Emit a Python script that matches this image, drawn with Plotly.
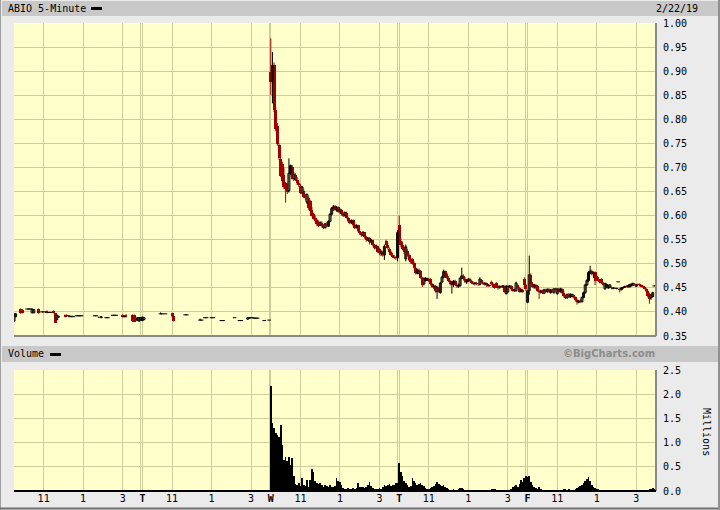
import plotly.graph_objects as go

# ---------------- data ----------------
BARS_PER_DAY = 78  # 5-minute bars, 9:30-16:00

# Monday (sparse trading) : bar offsets within the day and OHLC
mon_idx = [0, 1, 4, 5, 8, 9, 10, 11, 12, 15, 17, 18, 20, 21, 22, 24, 25, 26, 27, 31, 32, 33, 34, 35, 36,
           38, 39, 40, 41, 49, 50, 52, 53, 56, 57, 60, 61, 62, 66, 67, 68, 72, 73, 75, 76, 77]
mon_open = [.381, .390, .406, .405, .406, .406, .406, .398, .398, .406, .400, .400, .402, .399, .399, .402, .397,
            .384, .389, .394, .394, .392, .390, .391, .390, .392, .392, .392, .392, .392, .392, .389, .388, .388,
            .388, .393, .393, .393, .394, .390, .394, .394, .393, .382, .381, .383]
mon_high = [.397, .397, .407, .406, .406, .406, .406, .406, .406, .407, .400, .400, .403, .399, .399, .403, .398,
            .395, .392, .395, .395, .392, .390, .391, .390, .392, .392, .392, .392, .392, .392, .389, .390, .388,
            .388, .393, .393, .393, .395, .391, .395, .395, .395, .389, .389, .389]
mon_low = [.380, .389, .396, .397, .406, .406, .406, .398, .398, .396, .400, .400, .397, .399, .399, .397, .377,
           .383, .388, .389, .390, .392, .390, .391, .390, .392, .392, .392, .392, .392, .392, .389, .388, .388,
           .388, .393, .393, .393, .389, .389, .389, .379, .379, .381, .380, .382]
mon_close = [.396, .396, .397, .398, .406, .406, .406, .406, .405, .397, .400, .400, .398, .399, .399, .398, .378,
             .393, .391, .390, .391, .392, .390, .391, .390, .392, .392, .392, .392, .392, .392, .389, .390, .388,
             .388, .393, .393, .393, .390, .390, .390, .381, .380, .388, .388, .388]
mon_vol = [.010, .006, .008, .005, .004, .003, .004, .006, .005, .007, .003, .003, .005, .002, .002, .004, .009,
           .006, .004, .005, .004, .003, .002, .002, .003, .002, .002, .002, .002, .003, .002, .003, .003, .002,
           .002, .003, .002, .002, .005, .003, .004, .008, .006, .005, .004, .006]

# Tuesday (sparse trading)
tue_idx = [0, 1, 11, 12, 14, 18, 19, 26, 27, 35, 36, 38, 39, 42, 43, 48, 49, 56, 59, 60, 64, 65, 66, 67, 68, 69,
           70, 74, 77]
tue_open = [.382, .384, .396, .396, .396, .397, .391, .394, .394, .383, .383, .388, .388, .388, .388, .382, .382,
            .388, .382, .382, .385, .387, .388, .388, .387, .387, .387, .382, .383]
tue_high = [.390, .390, .399, .396, .396, .398, .392, .394, .394, .386, .383, .388, .388, .388, .388, .382, .382,
            .388, .382, .382, .388, .388, .388, .388, .387, .387, .387, .382, .383]
tue_low = [.381, .383, .396, .396, .396, .389, .380, .394, .394, .383, .383, .388, .388, .388, .388, .382, .382,
           .388, .382, .382, .384, .387, .388, .388, .387, .387, .387, .382, .383]
tue_close = [.389, .388, .396, .396, .396, .391, .381, .394, .394, .383, .383, .388, .388, .388, .388, .382, .382,
             .388, .382, .382, .388, .388, .388, .388, .387, .387, .387, .382, .383]
tue_vol = [.006, .005, .004, .003, .003, .008, .007, .003, .002, .004, .003, .002, .002, .003, .002, .003, .002,
           .002, .003, .002, .004, .003, .002, .002, .002, .002, .002, .003, .004]

# Wednesday (every bar)
wed_open = [.899, .878, .912, .820, .787, .746, .718, .708, .685, .667,
            .665, .652, .688, .700, .677, .685, .675, .668, .662, .647,
            .652, .640, .628, .637, .630, .612, .603, .596, .590, .584,
            .580, .585, .578, .575, .583, .578, .588, .603, .615, .620,
            .612, .617, .608, .612, .604, .600, .606, .596, .589, .585,
            .590, .580, .575, .580, .569, .563, .559, .565, .555, .549,
            .553, .545, .549, .538, .533, .537, .530, .522, .525, .518,
            .548, .540, .531, .525, .519, .514, .513, .512]
wed_high = [.968, .940, .918, .825, .792, .750, .722, .712, .700, .670,
            .668, .719, .706, .705, .690, .688, .680, .672, .666, .662,
            .655, .645, .646, .640, .632, .618, .606, .600, .594, .590,
            .588, .588, .582, .585, .586, .590, .605, .618, .622, .622,
            .620, .619, .615, .614, .608, .609, .608, .598, .592, .592,
            .592, .584, .582, .581, .572, .566, .568, .566, .558, .556,
            .555, .552, .550, .541, .540, .538, .533, .528, .527, .540,
            .550, .543, .534, .527, .523, .518, .516, .570]
wed_low = [.850, .833, .815, .775, .745, .715, .680, .668, .655, .627,
           .645, .648, .684, .675, .672, .672, .664, .660, .645, .645,
           .636, .632, .624, .612, .608, .598, .592, .585, .578, .576,
           .578, .575, .572, .573, .576, .576, .586, .600, .610, .610,
           .608, .606, .604, .600, .597, .598, .594, .586, .582, .583,
           .578, .572, .573, .566, .560, .556, .557, .552, .546, .547,
           .540, .543, .536, .530, .530, .522, .518, .516, .515, .508,
           .538, .530, .522, .516, .512, .510, .508, .505]
wed_close = [.878, .912, .820, .780, .748, .720, .683, .672, .660, .656,
             .650, .688, .704, .677, .685, .675, .668, .663, .647, .659,
             .638, .636, .644, .615, .610, .600, .594, .588, .582, .579,
             .586, .578, .575, .583, .578, .588, .603, .615, .618, .612,
             .617, .608, .612, .603, .600, .606, .596, .589, .585, .590,
             .580, .575, .580, .569, .563, .559, .565, .555, .549, .553,
             .545, .549, .538, .533, .537, .525, .522, .525, .518, .536,
             .540, .532, .525, .519, .514, .513, .512, .565]
wed_vol = [2.17, 1.40, 1.30, 1.20, 1.15, 1.12, 1.36, .95, .64, .71,
           .62, .71, .54, .68, .30, .14, .12, .16, .10, .26,
           .12, .10, .23, .09, .23, .45, .40, .20, .16, .14,
           .16, .12, .09, .12, .10, .08, .12, .09, .08, .10,
           .26, .20, .19, .12, .06, .05, .04, .06, .05, .04,
           .06, .05, .06, .16, .09, .08, .09, .07, .09, .12,
           .19, .10, .06, .05, .04, .05, .06, .05, .09, .12,
           .10, .12, .14, .10, .12, .12, .16, .16]

# Thursday
thu_open = [.580, .547, .538, .531, .510, .527, .518, .508, .510, .502,
            .492, .480, .480, .485, .471, .458, .465, .466, .469, .469,
            .457, .452, .454, .443, .450, .440, .462, .472, .484, .479,
            .470, .465, .457, .460, .465, .456, .453, .455, .470, .475,
            .468, .462, .464, .468, .464, .460, .459, .460, .458, .457,
            .466, .461, .458, .460, .455, .456, .462, .457, .455, .460,
            .454, .450, .453, .452, .454, .438, .442, .453, .454, .448,
            .444, .444, .456, .450, .444, .446, .468, .455]
thu_high = [.600, .552, .546, .536, .540, .530, .521, .512, .512, .505,
            .494, .490, .490, .487, .473, .472, .472, .471, .471, .470,
            .460, .456, .456, .454, .452, .462, .475, .488, .486, .481,
            .474, .467, .462, .466, .467, .459, .459, .472, .492, .478,
            .472, .466, .470, .471, .467, .463, .462, .462, .460, .472,
            .468, .463, .461, .461, .458, .457, .465, .460, .458, .462,
            .456, .455, .455, .456, .455, .456, .455, .456, .456, .450,
            .448, .463, .458, .452, .448, .448, .472, .458]
thu_low = [.540, .535, .528, .520, .505, .515, .505, .500, .498, .490,
           .478, .478, .478, .469, .452, .455, .463, .464, .462, .455,
           .450, .448, .440, .427, .440, .438, .460, .470, .476, .468,
           .462, .455, .438, .452, .454, .450, .450, .452, .468, .465,
           .460, .458, .462, .462, .458, .456, .455, .456, .454, .455,
           .459, .456, .455, .452, .452, .452, .455, .450, .448, .452,
           .446, .449, .450, .450, .440, .436, .440, .450, .446, .442,
           .442, .442, .448, .440, .440, .440, .452, .444]
thu_close = [.545, .538, .531, .524, .535, .518, .508, .503, .500, .492,
             .481, .486, .485, .471, .455, .469, .470, .469, .465, .457,
             .452, .454, .443, .450, .442, .460, .472, .484, .479, .470,
             .465, .457, .460, .464, .456, .453, .456, .470, .475, .468,
             .462, .464, .468, .464, .460, .459, .460, .458, .457, .468,
             .461, .458, .460, .455, .456, .454, .457, .452, .450, .454,
             .449, .453, .452, .454, .442, .452, .453, .454, .448, .444,
             .446, .460, .450, .442, .446, .441, .455, .447]
thu_vol = [.57, .40, .30, .20, .16, .12, .09, .10, .26, .20,
           .16, .12, .14, .16, .12, .10, .06, .05, .04, .06,
           .08, .10, .14, .19, .15, .12, .10, .12, .08, .06,
           .04, .03, .03, .04, .03, .02, .04, .06, .07, .05,
           .03, .02, .02, .03, .02, .02, .03, .02, .02, .03,
           .02, .02, .03, .02, .02, .03, .04, .05, .04, .03,
           .02, .02, .03, .02, .02, .03, .02, .02, .04, .08,
           .10, .12, .08, .15, .22, .18, .26, .30]

# Friday
fri_open = [.420, .444, .477, .459, .452, .456, .454, .444, .441, .444,
            .439, .446, .442, .447, .440, .446, .440, .448, .438, .448,
            .442, .448, .439, .433, .429, .436, .431, .432, .436, .430,
            .424, .420, .423, .421, .430, .440, .456, .465, .482, .485,
            .479, .482, .475, .469, .465, .468, .460, .448, .452, .450,
            .451, .450, .449, .450, .449, .4625, .448, .446, .450, .451,
            .453, .452, .452, .454, .455, .458, .453, .457, .458, .455,
            .454, .452, .448, .444, .438, .430, .432, .454]
fri_high = [.446, .517, .480, .462, .458, .458, .456, .447, .446, .446,
            .448, .448, .449, .449, .448, .448, .449, .450, .449, .450,
            .450, .449, .444, .436, .438, .439, .438, .438, .437, .432,
            .428, .425, .426, .432, .442, .458, .468, .485, .496, .488,
            .484, .484, .478, .473, .468, .470, .462, .461, .459, .457,
            .457, .452, .451, .451, .450, .4625, .450, .451, .452, .454,
            .455, .456, .458, .459, .461, .460, .458, .459, .459, .457,
            .456, .454, .450, .446, .440, .436, .442, .455]
fri_low = [.418, .436, .456, .450, .448, .447, .442, .427, .438, .437,
           .437, .440, .440, .440, .438, .440, .438, .442, .436, .440,
           .440, .437, .430, .427, .428, .429, .429, .430, .428, .421,
           .415, .418, .419, .420, .428, .438, .454, .462, .478, .476,
           .470, .456, .466, .462, .459, .458, .454, .446, .450, .448,
           .449, .447, .447, .448, .447, .4625, .440, .445, .448, .450,
           .451, .451, .451, .453, .454, .455, .452, .455, .453, .451,
           .450, .447, .441, .430, .417, .425, .430, .453]
fri_close = [.444, .477, .459, .452, .456, .449, .444, .441, .444, .439,
             .446, .442, .447, .443, .446, .444, .448, .443, .448, .442,
             .448, .439, .433, .429, .436, .431, .437, .436, .430, .424,
             .420, .423, .421, .430, .440, .456, .465, .482, .485, .479,
             .482, .465, .469, .465, .461, .460, .456, .459, .457, .455,
             .456, .449, .450, .449, .449, .4625, .446, .450, .451, .453,
             .452, .455, .457, .458, .459, .457, .457, .456, .455, .452,
             .451, .448, .443, .433, .426, .434, .440, .454]
fri_vol = [.28, .30, .18, .12, .08, .06, .05, .08, .04, .03,
           .02, .02, .03, .02, .02, .02, .03, .02, .02, .02,
           .02, .03, .04, .05, .03, .04, .03, .02, .03, .04,
           .06, .08, .10, .12, .16, .20, .25, .28, .20, .12,
           .08, .06, .05, .04, .03, .03, .02, .02, .02, .03,
           .02, .02, .01, .02, .02, .03, .02, .02, .02, .01,
           .02, .02, .03, .02, .02, .02, .03, .02, .02, .03,
           .02, .02, .03, .03, .04, .04, .06, .04]

# axis labels
intraday_ticks = [18, 42, 66]          # 11:00, 13:00, 15:00
intraday_labels = ["11", "1", "3"]
day_letters = ["", "T", "W", "T", "F"]
price_ticks = [0.35, 0.40, 0.45, 0.50, 0.55, 0.60, 0.65, 0.70, 0.75, 0.80, 0.85, 0.90, 0.95, 1.00]
vol_ticks = [0.0, 0.5, 1.0, 1.5, 2.0, 2.5]

# ---------------- assemble ----------------
full_day = list(range(BARS_PER_DAY))
x_all, o_all, h_all, l_all, c_all, v_all = [], [], [], [], [], []
for d, (idx, o, h, l, c, v) in enumerate([
        (mon_idx, mon_open, mon_high, mon_low, mon_close, mon_vol),
        (tue_idx, tue_open, tue_high, tue_low, tue_close, tue_vol),
        (full_day, wed_open, wed_high, wed_low, wed_close, wed_vol),
        (full_day, thu_open, thu_high, thu_low, thu_close, thu_vol),
        (full_day, fri_open, fri_high, fri_low, fri_close, fri_vol)]):
    x_all += [d * BARS_PER_DAY + i for i in idx]
    o_all += o
    h_all += h
    l_all += l
    c_all += c
    v_all += v

n = len(x_all)
up = [k for k in range(n) if c_all[k] > o_all[k]]
dn = [k for k in range(n) if c_all[k] < o_all[k]]
fl = [k for k in range(n) if c_all[k] == o_all[k]]


def wick_xy(ks):
    xs, ys = [], []
    for k in ks:
        xs += [x_all[k], x_all[k], None]
        ys += [l_all[k], h_all[k], None]
    return xs, ys


tickvals, ticktext = [], []
for d in range(5):
    if d > 0:
        tickvals += [d * BARS_PER_DAY - 1, d * BARS_PER_DAY]
        ticktext += ["", "<b>%s</b>" % day_letters[d]]
    for t, lab in zip(intraday_ticks, intraday_labels):
        tickvals.append(d * BARS_PER_DAY + t)
        ticktext.append(lab)

# ---------------- figure ----------------
GRID = "#CDCD9A"
PLOT_BG = "#FFFFCC"
PAPER = "#EBEBEB"
FONT = "DejaVu Sans Mono"
RED = "#A00000"

fig = go.Figure()
# wicks
wx, wy = wick_xy(dn)
fig.add_trace(go.Scatter(x=wx, y=wy, mode="lines", line=dict(color=RED, width=1),
                         xaxis="x", yaxis="y", hoverinfo="skip", showlegend=False))
wx, wy = wick_xy(up + fl)
fig.add_trace(go.Scatter(x=wx, y=wy, mode="lines", line=dict(color="black", width=1),
                         xaxis="x", yaxis="y", hoverinfo="skip", showlegend=False))
# down bodies (filled red)
fig.add_trace(go.Bar(x=[x_all[k] for k in dn], base=[c_all[k] for k in dn],
                     y=[o_all[k] - c_all[k] for k in dn], width=1.8,
                     marker=dict(color=RED, line=dict(width=0)),
                     xaxis="x", yaxis="y", hoverinfo="skip", showlegend=False))
# up bodies (hollow, black outline)
fig.add_trace(go.Bar(x=[x_all[k] for k in up], base=[o_all[k] for k in up],
                     y=[c_all[k] - o_all[k] for k in up], width=1.2,
                     marker=dict(color=PLOT_BG, line=dict(color="black", width=1)),
                     xaxis="x", yaxis="y", hoverinfo="skip", showlegend=False))
# unchanged bars (open == close) drawn as short dashes
fx, fy = [], []
for k in fl:
    fx += [x_all[k] - 1.1, x_all[k] + 1.1, None]
    fy += [c_all[k], c_all[k], None]
fig.add_trace(go.Scatter(x=fx, y=fy, mode="lines", line=dict(color="black", width=1),
                         xaxis="x", yaxis="y", hoverinfo="skip", showlegend=False))
# volume
fig.add_trace(go.Bar(x=x_all, y=v_all, width=1.0, marker=dict(color="black", line=dict(width=0)),
                     xaxis="x2", yaxis="y2", showlegend=False, hoverinfo="skip"))

L, R, T, B = 14, 64, 23, 19
W, H = 720, 510
PW, PH = W - L - R, H - T - B


def px(xp):
    return (xp - L) / PW


def py(yp):
    return (H - B - yp) / PH


price_bottom = py(336)
vol_top = py(370)

axis_common = dict(showline=False, zeroline=False, fixedrange=True, showgrid=True,
                   gridcolor=GRID, gridwidth=1, ticks="", automargin=False)
fig.update_layout(
    width=W, height=H, margin=dict(l=L, r=R, t=T, b=B, autoexpand=False),
    paper_bgcolor=PAPER, plot_bgcolor=PLOT_BG, barmode="overlay", bargap=0, showlegend=False,
    font=dict(family=FONT, size=10, color="black"),
    xaxis=dict(domain=[0, 1], range=[0, 5 * BARS_PER_DAY], anchor="y",
               tickmode="array", tickvals=tickvals, ticktext=ticktext, showticklabels=False,
               **axis_common),
    yaxis=dict(domain=[price_bottom, 1], range=[0.35, 1.0], anchor="x", side="right",
               tickmode="array", tickvals=price_ticks, ticktext=["%.2f" % v for v in price_ticks],
               ticklabelstandoff=6, tickfont=dict(family=FONT, size=10), **axis_common),
    xaxis2=dict(domain=[0, 1], range=[0, 5 * BARS_PER_DAY], anchor="y2",
                tickmode="array", tickvals=tickvals, ticktext=ticktext,
                tickfont=dict(family=FONT, size=10), **axis_common),
    yaxis2=dict(domain=[0, vol_top], range=[0, 2.5], anchor="x2", side="right",
                tickmode="array", tickvals=vol_ticks, ticktext=["%.1f" % v for v in vol_ticks],
                ticklabelstandoff=6, tickfont=dict(family=FONT, size=10), **axis_common),
)

shapes = []
# header bars
shapes.append(dict(type="rect", xref="paper", yref="paper", x0=px(2), x1=px(718), y0=py(16), y1=py(1),
                   fillcolor="#C8C8C8", line=dict(width=0), layer="below"))
shapes.append(dict(type="rect", xref="paper", yref="paper", x0=px(2), x1=px(718), y0=py(362), y1=py(346),
                   fillcolor="#C8C8C8", line=dict(width=0), layer="below"))
# legend dashes
shapes.append(dict(type="rect", xref="paper", yref="paper", x0=px(91), x1=px(102), y0=py(10), y1=py(7),
                   fillcolor="black", line=dict(width=0)))
shapes.append(dict(type="rect", xref="paper", yref="paper", x0=px(50), x1=px(61), y0=py(356), y1=py(353),
                   fillcolor="black", line=dict(width=0)))
# panel borders
shapes.append(dict(type="line", xref="paper", yref="paper", x0=1, x1=1, y0=price_bottom, y1=1,
                   line=dict(color="#8A8A8A", width=2)))
shapes.append(dict(type="line", xref="paper", yref="paper", x0=0, x1=1, y0=price_bottom, y1=price_bottom,
                   line=dict(color="#8A8A8A", width=2)))
shapes.append(dict(type="line", xref="paper", yref="paper", x0=1, x1=1, y0=0, y1=vol_top,
                   line=dict(color="#8A8A8A", width=2)))
shapes.append(dict(type="line", xref="paper", yref="paper", x0=0, x1=1, y0=0, y1=0,
                   line=dict(color="black", width=2)))
# outer frame
shapes.append(dict(type="line", xref="paper", yref="paper", x0=px(0.5), x1=px(0.5), y0=py(510), y1=py(0),
                   line=dict(color="#A0A0A0", width=1)))
shapes.append(dict(type="line", xref="paper", yref="paper", x0=px(0), x1=px(720), y0=py(508.5), y1=py(508.5),
                   line=dict(color="#707070", width=2)))
shapes.append(dict(type="line", xref="paper", yref="paper", x0=px(719), x1=px(719), y0=py(510), y1=py(0),
                   line=dict(color="#909090", width=2)))
fig.update_layout(shapes=shapes)

ann = [
    dict(text="ABIO 5-Minute", x=px(6), y=py(8.5), xanchor="left", yanchor="middle",
         font=dict(family=FONT, size=10, color="black")),
    dict(text="2/22/19", x=px(700), y=py(8.5), xanchor="right", yanchor="middle",
         font=dict(family=FONT, size=10, color="black")),
    dict(text="Volume", x=px(6), y=py(354), xanchor="left", yanchor="middle",
         font=dict(family=FONT, size=10, color="black")),
    dict(text="<b>©BigCharts.com</b>", x=px(657), y=py(354), xanchor="right", yanchor="middle",
         font=dict(family="DejaVu Sans", size=10, color="#8C8C8C")),
    dict(text="Millions", x=px(707), y=py(432), xanchor="center", yanchor="middle", textangle=90,
         font=dict(family=FONT, size=10, color="black")),
]
for a in ann:
    a.update(xref="paper", yref="paper", showarrow=False)
fig.update_layout(annotations=ann)

fig.write_html("out.html", config={"displayModeBar": False, "staticPlot": True},
               post_script="document.body.style.margin='0';document.body.style.overflow='hidden';")
